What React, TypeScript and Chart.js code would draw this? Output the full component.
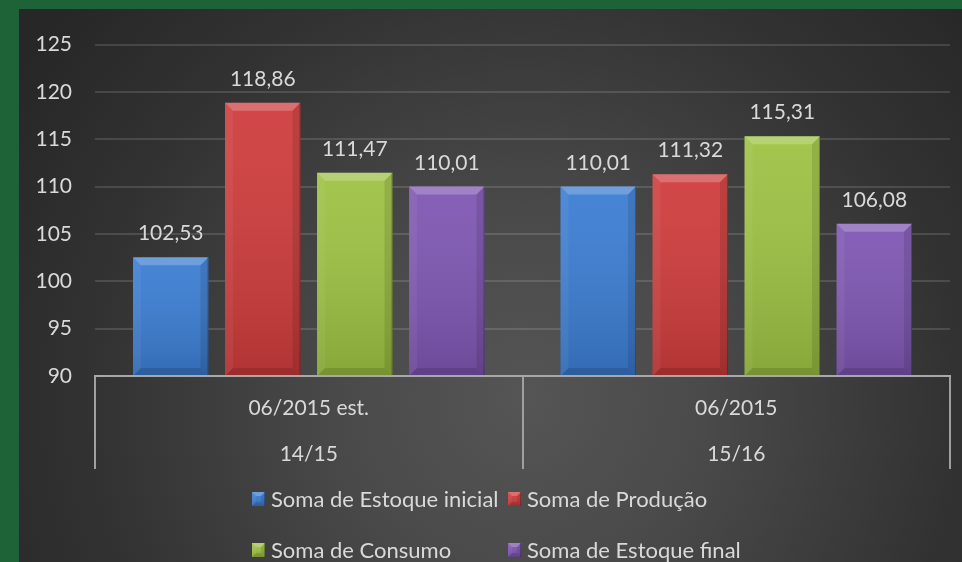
import React, { useEffect, useRef } from "react";
import { Chart, registerables } from "chart.js";

Chart.register(...registerables);

// ---- data ----
const periods = ["06/2015 est.", "06/2015"];
const seasons = ["14/15", "15/16"];
const seriesNames = [
  "Soma de Estoque inicial",
  "Soma de Produção",
  "Soma de Consumo",
  "Soma de Estoque final",
];
const estoqueInicial = [102.53, 110.01];
const producao = [118.86, 111.32];
const consumo = [111.47, 115.31];
const estoqueFinal = [110.01, 106.08];
const yMin = 90;
const yMax = 125;
const yStep = 5;

// ---- styles ----
const seriesColors = ["#3b7dd2", "#cf3c3c", "#9dc243", "#7e56b2"];
const FONT = "Lato, 'Open Sans', sans-serif";
const TEXT = "#d9d9d9";
const W = 943;
const H = 553;

const fmt = (v: number) => v.toFixed(2).replace(".", ",");

const backgroundPlugin = {
  id: "bgPanel",
  beforeDraw(chart: any) {
    const ctx = chart.ctx;
    ctx.save();
    const g = ctx.createRadialGradient(505, 390, 0, 505, 390, 600);
    g.addColorStop(0, "#555555");
    g.addColorStop(0.3, "#4a4a4a");
    g.addColorStop(0.72, "#323232");
    g.addColorStop(1, "#272727");
    ctx.fillStyle = g;
    ctx.fillRect(0, 0, chart.width, chart.height);
    ctx.restore();
  },
};

function poly(ctx: CanvasRenderingContext2D, pts: number[][], fill: string) {
  ctx.beginPath();
  ctx.moveTo(pts[0][0], pts[0][1]);
  for (let i = 1; i < pts.length; i++) ctx.lineTo(pts[i][0], pts[i][1]);
  ctx.closePath();
  ctx.fillStyle = fill;
  ctx.fill();
}

function bevel(ctx: CanvasRenderingContext2D, L: number, T: number, R: number, B: number, b: number) {
  const shade = ctx.createLinearGradient(0, T, 0, B);
  shade.addColorStop(0, "rgba(255,255,255,0.06)");
  shade.addColorStop(1, "rgba(0,0,0,0.14)");
  ctx.fillStyle = shade;
  ctx.fillRect(L, T, R - L, B - T);
  poly(ctx, [[L, T], [R, T], [R - b, T + b], [L + b, T + b]], "rgba(255,255,255,0.22)");
  poly(ctx, [[L, T], [L + b, T + b], [L + b, B - b], [L, B]], "rgba(255,255,255,0.05)");
  poly(ctx, [[R, T], [R - b, T + b], [R - b, B - b], [R, B]], "rgba(0,0,0,0.10)");
  poly(ctx, [[L, B], [L + b, B - b], [R - b, B - b], [R, B]], "rgba(0,0,0,0.12)");
  ctx.strokeStyle = "rgba(0,0,0,0.25)";
  ctx.lineWidth = 1;
  ctx.beginPath();
  ctx.moveTo(R - 0.5, T);
  ctx.lineTo(R - 0.5, B);
  ctx.stroke();
}

const barDecorPlugin = {
  id: "barDecor",
  afterDatasetsDraw(chart: any) {
    const ctx = chart.ctx;
    const area = chart.chartArea;
    ctx.save();
    chart.data.datasets.forEach((ds: any, di: number) => {
      const meta = chart.getDatasetMeta(di);
      meta.data.forEach((bar: any, i: number) => {
        const { x, y, base, width } = bar.getProps(["x", "y", "base", "width"], true);
        const L = x - width / 2;
        const R = x + width / 2;
        const B = Math.min(base, area.bottom);
        const T = Math.max(y, area.top);
        bevel(ctx, L, T, R, B, 8);
        ctx.fillStyle = TEXT;
        ctx.font = `21px ${FONT}`;
        ctx.textAlign = "center";
        ctx.textBaseline = "alphabetic";
        ctx.fillText(fmt(ds.data[i]), x, T - 17);
      });
    });
    ctx.restore();
  },
};

const legendPlugin = {
  id: "customLegend",
  afterDraw(chart: any) {
    const ctx = chart.ctx;
    const cols = [233, 489];
    const rows = [498, 549];
    ctx.save();
    ctx.font = `22px ${FONT}`;
    ctx.textAlign = "left";
    ctx.textBaseline = "alphabetic";
    chart.data.datasets.forEach((ds: any, i: number) => {
      const mx = cols[i % 2];
      const by = rows[Math.floor(i / 2)];
      const my = by - 15;
      ctx.fillStyle = seriesColors[i];
      ctx.fillRect(mx, my, 13, 14);
      bevel(ctx, mx, my, mx + 13, my + 14, 4);
      ctx.fillStyle = TEXT;
      ctx.fillText(ds.label, mx + 19, by);
    });
    ctx.restore();
  },
};

export default function App() {
  const ref = useRef<HTMLCanvasElement | null>(null);

  useEffect(() => {
    if (!ref.current) return;
    const labels = periods.map((p, i) => [p, seasons[i]]);
    const values = [estoqueInicial, producao, consumo, estoqueFinal];
    const chart = new Chart(ref.current, {
      type: "bar",
      data: {
        labels,
        datasets: values.map((v, i) => ({
          label: seriesNames[i],
          data: v,
          backgroundColor: seriesColors[i],
          borderWidth: 0,
          categoryPercentage: 0.861,
          barPercentage: 0.82,
        })),
      },
      options: {
        responsive: false,
        animation: false,
        devicePixelRatio: 1,
        layout: { padding: { top: 29, right: 12, left: 0, bottom: 0 } },
        plugins: {
          legend: { display: false },
          tooltip: { enabled: false },
          title: { display: false },
        },
        scales: {
          x: {
            position: "bottom",
            offset: true,
            grid: {
              offset: true,
              drawOnChartArea: false,
              drawTicks: true,
              tickLength: 93,
              color: "#a0a0a0",
              lineWidth: 2,
            },
            border: { display: true, color: "#a8a8a8", width: 2, z: 1 },
            ticks: {
              color: TEXT,
              padding: -84,
              maxRotation: 0,
              autoSkip: false,
              font: { family: FONT, size: 21, lineHeight: 46 / 21 },
            },
            afterFit: (scale: any) => {
              scale.height = H - 367;
            },
          },
          y: {
            min: yMin,
            max: yMax,
            grid: {
              color: "rgba(255,255,255,0.13)",
              lineWidth: 2,
              drawTicks: false,
            },
            border: { display: false },
            ticks: {
              stepSize: yStep,
              color: TEXT,
              padding: 23,
              font: { family: FONT, size: 21 },
            },
            afterFit: (scale: any) => {
              scale.width = 76;
            },
          },
        },
      },
      plugins: [backgroundPlugin, barDecorPlugin, legendPlugin],
    } as any);
    return () => chart.destroy();
  }, []);

  return (
    <div
      style={{
        position: "fixed",
        left: 0,
        top: 0,
        width: 962,
        height: 562,
        background: "#1e6238",
        overflow: "hidden",
      }}
    >
      <canvas
        ref={ref}
        width={W}
        height={H}
        style={{ position: "absolute", left: 19, top: 9, width: W, height: H, display: "block" }}
      />
    </div>
  );
}
